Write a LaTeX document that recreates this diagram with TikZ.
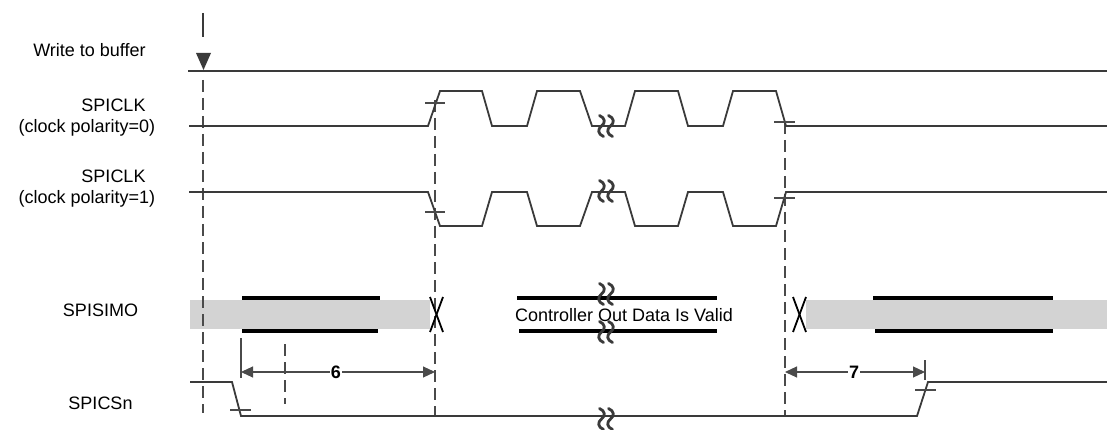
\documentclass[tikz,border=0pt]{standalone}
\usepackage{fontspec}
\setmainfont{Liberation Sans}
\usetikzlibrary{arrows.meta}
\definecolor{wavecol}{HTML}{3A3A3A}
\definecolor{barfill}{HTML}{D3D3D3}
\definecolor{dashcol}{HTML}{4A4A4A}
\tikzset{
  wave/.style={draw=wavecol,line width=1.8pt,line join=miter},
  dataline/.style={draw=black,line width=3.2pt},
  guide/.style={draw=dashcol,line width=1.2pt,dash pattern=on 12pt off 6pt},
  tickmark/.style={draw=dashcol,line width=1.1pt},
  xmark/.style={draw=black,line width=1.8pt},
  dim/.style={draw=dashcol,line width=1.1pt,{Triangle[length=12pt,width=11pt]}-{Triangle[length=12pt,width=11pt]}},
  lbl/.style={anchor=base,inner sep=0pt,font=\fontsize{18}{20}\selectfont},
  dimlbl/.style={anchor=base,inner sep=1pt,fill=white,font=\fontsize{18}{20}\selectfont\bfseries},
  brk/.pic={
    \foreach \dx in {-4.5,4.5}{
      \draw[wavecol,line width=2.8pt,line cap=round] (\dx-2,-10.5) .. controls (\dx+4,-8) and (\dx+4,-3) .. (\dx,0)
        .. controls (\dx-4,3) and (\dx-4,8) .. (\dx+2,10.5);
    }
  }
}
\begin{document}
\begin{tikzpicture}[x=1pt,y=-1pt]
\useasboundingbox (0,0) rectangle (1107,430);

% labels
\node[lbl] (lwrite) at (89.5,57) {Write to buffer};
\node[lbl] (lclkA) at (113.5,112) {SPICLK};
\node[lbl] (lclkAp) at (87,132.5) {(clock polarity=0)};
\node[lbl] (lclkB) at (113.5,183) {SPICLK};
\node[lbl] (lclkBp) at (87,203.5) {(clock polarity=1)};
\node[lbl] (lsimo) at (100.5,316) {SPISIMO};
\node[lbl] (lcs) at (100.5,409) {SPICSn};

% grey data bars
\fill[barfill] (190,300) rectangle (430,329);
\fill[barfill] (806,300) rectangle (1107,329);

% dashed guide lines
\coordinate (g0t) at (203,80);  \coordinate (g0b) at (203,413);
\coordinate (g1t) at (435,100); \coordinate (g1b) at (435,416);
\coordinate (g2t) at (785,122); \coordinate (g2b) at (785,416);
\draw[guide] (g0t) -- (g0b);
\draw[guide] (g1t) -- (g1b);
\draw[guide] (g2t) -- (g2b);

% write-to-buffer marker
\coordinate (mk1) at (203,13); \coordinate (mk2) at (203,37);
\draw[wavecol,line width=1.8pt] (mk1) -- (mk2);
\fill[wavecol] (196,53) -- (211,53) -- (203.5,70) -- cycle;
\coordinate (wb0) at (188,71); \coordinate (wb1) at (1107,71);
\draw[wave] (wb0) -- (wb1);

% SPICLK polarity 0
\draw[wave] (189,126) -- (428,126) -- (440,91) -- (482,91) -- (492,126) -- (527,126) -- (537,91)
  -- (580,91) -- (592,126) -- (625,126) -- (635,91) -- (678,91) -- (688,126) -- (723,126)
  -- (733,91) -- (776,91) -- (786,126) -- (1107,126);
% SPICLK polarity 1
\draw[wave] (189,192) -- (428,192) -- (440,226) -- (482,226) -- (492,192) -- (527,192) -- (537,226)
  -- (580,226) -- (592,192) -- (625,192) -- (635,226) -- (678,226) -- (688,192) -- (723,192)
  -- (733,226) -- (776,226) -- (786,192) -- (1107,192);

% edge ticks
\draw[tickmark] (425,103) -- (445,103);
\draw[tickmark] (425,212) -- (445,212);
\draw[tickmark] (774,122) -- (795,122);
\draw[tickmark] (774,198) -- (795,198);

% SPISIMO data lines
\draw[dataline] (242,298) -- (380,298);
\draw[dataline] (242,331) -- (378,331);
\draw[dataline] (517,298) -- (717,298);
\draw[dataline] (519,331) -- (717,331);
\draw[dataline] (873,298) -- (1053,298);
\draw[dataline] (875,331) -- (1053,331);
\node[lbl] (lvalid) at (624,321) {Controller Out Data Is Valid};

% X transitions
\draw[xmark] (430,297) -- (443,332);
\draw[xmark] (443,297) -- (430,332);
\draw[xmark] (793,297) -- (806,332);
\draw[xmark] (806,297) -- (793,332);

% SPICSn
\draw[wave] (190,382) -- (232,382) -- (241,416) -- (917,416) -- (928,382) -- (1107,382);
\draw[tickmark] (230,410) -- (251,410);
\draw[tickmark] (915,390) -- (936,390);

% dimension helpers
\coordinate (d6a) at (241,372); \coordinate (d6b) at (435,372);
\coordinate (d7a) at (785,372); \coordinate (d7b) at (925,372);
\draw[tickmark] (241,338) -- (241,378);
\draw[guide,line width=1.1pt] (285,344) -- (285,404);
\draw[tickmark] (925,360) -- (925,380);
\draw[dim] (d6a) -- (d6b);
\draw[dim] (d7a) -- (d7b);
\node[dimlbl] (n6) at (336,378) {6};
\node[dimlbl] (n7) at (854,378) {7};

% break marks
\pic at (606,126) {brk};
\pic at (606,191) {brk};
\pic at (606,294) {brk};
\pic at (606,332) {brk};
\pic at (606,419) {brk};
\end{tikzpicture}
\end{document}
